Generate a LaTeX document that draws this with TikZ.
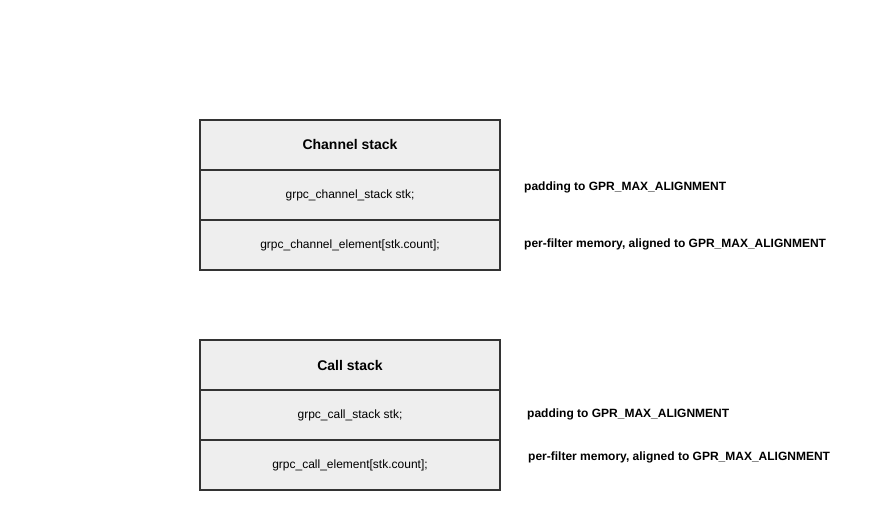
\documentclass[tikz,border=0pt]{standalone}
\usepackage{fontspec}
\setmainfont{Liberation Sans}
\usepackage{tikz}
\usetikzlibrary{positioning}
\usepackage{xcolor}
\definecolor{cellfill}{HTML}{EEEEEE}
\definecolor{celldraw}{HTML}{333333}

\begin{document}
\begin{tikzpicture}[x=1pt, y=-1pt, node distance=0pt, cell/.style={rectangle, draw=celldraw, fill=cellfill, line width=1.3pt, minimum width=300pt, minimum height=50pt, inner sep=0pt, outer sep=0pt, font=\fontsize{12}{14}\selectfont}, head/.style={cell, font=\bfseries\fontsize{14}{16}\selectfont}, note/.style={anchor=west, inner sep=0pt, font=\bfseries\fontsize{12}{14}\selectfont}]
        \useasboundingbox (0,0) rectangle (876,510);

        % channel stack
        \node[head] (chanhead) at (350,145) {Channel stack};
        \node[cell] (chanstk) [below=of chanhead] {grpc\_channel\_stack stk;};
        \node[cell] (chanelem) [below=of chanstk] {grpc\_channel\_element[stk.count];};
        \node[note] (chanpad) at (524,187) {padding to GPR\_MAX\_ALIGNMENT};
        \node[note] (chanmem) at (524,244) {per-filter memory, aligned to GPR\_MAX\_ALIGNMENT};

        % call stack
        \node[head] (callhead) at (350,365) {Call stack};
        \node[cell] (callstk) [below=of callhead] {grpc\_call\_stack stk;};
        \node[cell] (callelem) [below=of callstk] {grpc\_call\_element[stk.count];};
        \node[note] (callpad) at (527,414) {padding to GPR\_MAX\_ALIGNMENT};
        \node[note] (callmem) at (528,457) {per-filter memory, aligned to GPR\_MAX\_ALIGNMENT};
    \end{tikzpicture}
\end{document}
